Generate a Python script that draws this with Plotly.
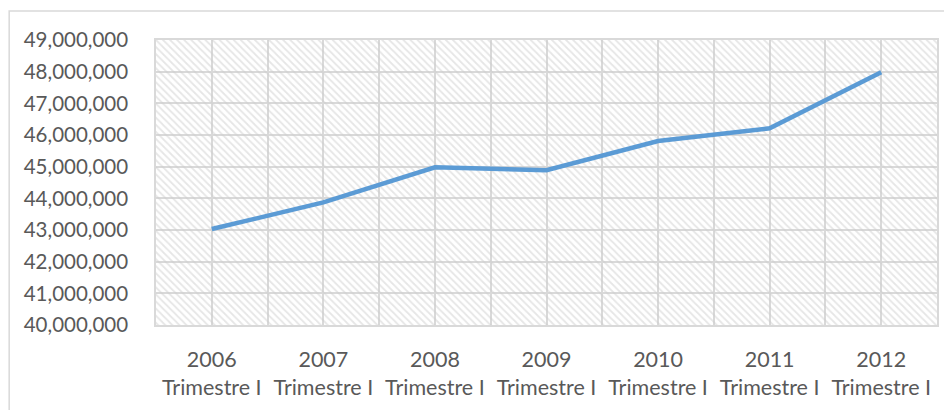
import plotly.graph_objects as go

years = ["2006", "2007", "2008", "2009", "2010", "2011", "2012"]
quarter_label = "Trimestre I"
values = [43030000, 43870000, 44980000, 44890000, 45810000, 46210000, 47980000]
y_ticks = [40000000 + i * 1000000 for i in range(10)]

x_pos = list(range(len(years)))
tick_text = [f"{y}<br>{quarter_label}" for y in years]

FONT = "Lato"
TXT = "#595959"
GRID = "#d9d9d9"

fig = go.Figure()

# hatched plot-area background
x_lo, x_hi = -0.5, len(years) - 0.5
y_lo, y_hi = y_ticks[0], y_ticks[-1]
fig.add_trace(go.Scatter(
    x=[x_lo, x_hi, x_hi, x_lo, x_lo],
    y=[y_lo, y_lo, y_hi, y_hi, y_lo],
    fill="toself", mode="none", hoverinfo="skip", showlegend=False,
    fillcolor="rgba(0,0,0,0)",
    fillpattern=dict(shape="\\", fgcolor="#cdcdcd", bgcolor="rgba(0,0,0,0)",
                     size=5, solidity=0.35),
))

fig.add_trace(go.Scatter(
    x=x_pos, y=values, mode="lines",
    line=dict(color="#5b9bd5", width=4.5),
    showlegend=False,
))

fig.update_layout(
    width=944, height=402,
    margin=dict(l=148, r=15, t=32, b=85),
    paper_bgcolor="white", plot_bgcolor="white",
    font=dict(family=FONT, color=TXT, size=20),
    shapes=[dict(type="rect", xref="paper", yref="paper",
                 x0=-0.188, x1=1.2, y0=-0.5, y1=1.102,
                 line=dict(color=GRID, width=1.5), layer="below")],
)

fig.update_xaxes(
    range=[x_lo, x_hi], tickmode="array", tickvals=x_pos, ticktext=tick_text,
    showgrid=True, gridcolor=GRID, gridwidth=1.5,
    minor=dict(tickmode="linear", tick0=-0.5, dtick=1, showgrid=True,
               gridcolor=GRID, gridwidth=1.5),
    showline=True, linecolor=GRID, linewidth=1.5, mirror=True,
    ticks="", zeroline=False, automargin=False, ticklabelstandoff=14,
    tickfont=dict(family=FONT, color=TXT, size=21.5),
)
fig.update_yaxes(
    range=[y_lo, y_hi], tickmode="array", tickvals=y_ticks,
    tickformat=",d",
    showgrid=True, gridcolor=GRID, gridwidth=1.5,
    showline=True, linecolor=GRID, linewidth=1.5, mirror=True,
    ticks="", zeroline=False, automargin=False, ticklabelstandoff=22,
    tickfont=dict(family=FONT, color=TXT, size=20.5),
)

fig.write_html("out.html")
